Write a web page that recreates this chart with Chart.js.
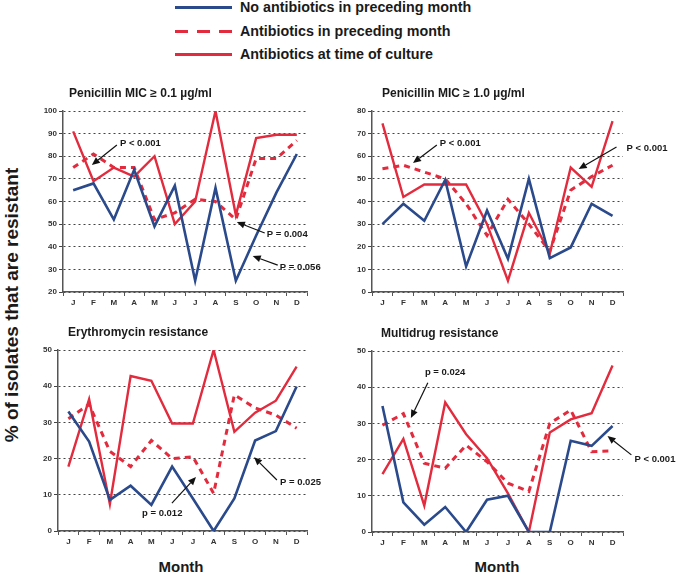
<!DOCTYPE html>
<html><head><meta charset="utf-8">
<script src="https://cdn.jsdelivr.net/npm/chart.js@4/dist/chart.umd.min.js"></script>
<style>
html,body{margin:0;padding:0;background:#fff;}
#wrap{position:relative;width:677px;height:576px;overflow:hidden;font-family:"Liberation Sans",Arial,sans-serif;}
canvas.pc{position:absolute;left:0;top:0;}
.lg{position:absolute;left:240px;font-weight:bold;font-size:14.3px;color:#1a1a1a;line-height:16px;white-space:nowrap;}
.ln{position:absolute;height:3px;}
.ytitle{position:absolute;left:12px;top:305px;transform:translate(-50%,-50%) rotate(-90deg);font-weight:bold;font-size:19px;color:#1a1a1a;white-space:nowrap;}
.month{position:absolute;top:558px;font-weight:bold;font-size:15px;color:#1a1a1a;transform:translateX(-50%);}
</style></head>
<body><div id="wrap">
<div class="ln" style="left:175px;top:6px;width:57px;background:#2a4a8c"></div>
<div class="lg" style="top:-1px">No antibiotics in preceding month</div>
<div class="ln" style="left:175px;top:30px;width:13px;background:#e32b3e"></div>
<div class="ln" style="left:197px;top:30px;width:13px;background:#e32b3e"></div>
<div class="ln" style="left:219px;top:30px;width:13px;background:#e32b3e"></div>
<div class="lg" style="top:23px">Antibiotics in preceding month</div>
<div class="ln" style="left:175px;top:53px;width:57px;background:#e32b3e"></div>
<div class="lg" style="top:46px">Antibiotics at time of culture</div>
<div class="ytitle">% of isolates that are resistant</div>
<div class="month" style="left:181px">Month</div>
<div class="month" style="left:497px">Month</div>
<canvas class="pc" id="c1" width="677" height="576"></canvas>
<canvas class="pc" id="c2" width="677" height="576"></canvas>
<canvas class="pc" id="c3" width="677" height="576"></canvas>
<canvas class="pc" id="c4" width="677" height="576"></canvas>
</div>
<script>
const months = ["J","F","M","A","M","J","J","A","S","O","N","D"];

// Panel 1: Penicillin MIC >= 0.1
const pen01_none = [65,68,52,74,49,67,25,66,25,45,64,81];
const pen01_prev = [75,81,75,75,52,55,61,60,52,79,79,87];
const pen01_now  = [91,69,75,71,80,50,60,100,54,88,89.5,89.5];
// Panel 2: Penicillin MIC >= 1.0
const pen10_none = [30,39,31.5,49.5,11.3,36,14.7,50,15,19.7,39,33.6];
const pen10_prev = [54.5,56,53,50,39,25,41,30,18,45,51,56];
const pen10_now  = [74.5,42,47.5,47.5,47.5,30,5,35,17,55,46.5,75.5];
// Panel 3: Erythromycin
const ery_none = [33,24.7,8.6,12.5,7.2,17.8,9,0,9,25,27.6,39.9];
const ery_prev = [31,35,22,17.8,25,20,20.5,10.4,37.6,34,32,28.4];
const ery_now  = [17.8,36.4,7.4,42.8,41.5,29.7,29.7,50,27.4,32.7,36,45.4];
// Panel 4: Multidrug
const mdr_none = [34.8,8.2,2,6.9,0,8.9,10,0,0,25.2,23.8,29.3];
const mdr_prev = [29.5,32.7,19,17.6,24,19.4,13.5,11.2,30,33.7,22.2,22.4];
const mdr_now  = [16,25.7,7.3,35.8,27,20.4,10.7,0,27.5,31.1,32.8,46];

const BLUE = "#2a4a8c", RED = "#e32b3e";
const FONT = '"Liberation Sans", Arial, sans-serif';

const panelPlugin = {
  id: 'panelDeco',
  afterDraw(chart) {
    const cfg = chart.options.plugins.panelDeco;
    if (!cfg) return;
    const ctx = chart.ctx, xs = chart.scales.x, ys = chart.scales.y;
    const px = i => xs.getPixelForValue(0) + i * (xs.getPixelForValue(1) - xs.getPixelForValue(0));
    const py = v => ys.getPixelForValue(v);
    ctx.save();
    ctx.fillStyle = '#1a1a1a';
    ctx.font = 'bold 12px ' + FONT;
    ctx.textBaseline = 'middle';
    ctx.textAlign = 'left';
    ctx.fillText(cfg.title, chart.chartArea.left + cfg.titleDx, chart.chartArea.top - 17);
    ctx.font = 'bold 9.5px ' + FONT;
    for (const n of cfg.notes) {
      ctx.fillStyle = '#1a1a1a';
      ctx.fillText(n.text, px(n.tx), py(n.ty));
      const x0 = px(n.a[0]), y0 = py(n.a[1]), x1 = px(n.a[2]), y1 = py(n.a[3]);
      const ang = Math.atan2(y1 - y0, x1 - x0);
      const hl = 8, hw = 3.5;
      const bx = x1 - hl * Math.cos(ang), by = y1 - hl * Math.sin(ang);
      ctx.strokeStyle = '#111';
      ctx.lineWidth = 1.2;
      ctx.beginPath(); ctx.moveTo(x0, y0); ctx.lineTo(bx, by); ctx.stroke();
      ctx.fillStyle = '#111';
      ctx.beginPath();
      ctx.moveTo(x1, y1);
      ctx.lineTo(bx + hw * Math.sin(ang), by - hw * Math.cos(ang));
      ctx.lineTo(bx - hw * Math.sin(ang), by + hw * Math.cos(ang));
      ctx.closePath(); ctx.fill();
    }
    ctx.restore();
  }
};

function makePanel(id, none, prev, now, ymin, ymax, pad, title, titleDx, notes) {
  new Chart(document.getElementById(id), {
    type: 'line',
    data: {
      labels: months,
      datasets: [
        {data: none, borderColor: BLUE, borderWidth: 2.6, pointRadius: 0, tension: 0},
        {data: now, borderColor: RED, borderWidth: 2.4, pointRadius: 0, tension: 0},
        {data: prev, borderColor: RED, borderWidth: 3, borderDash: [6,5], pointRadius: 0, tension: 0}
      ]
    },
    options: {
      responsive: false, animation: false, devicePixelRatio: 1,
      events: [],
      layout: {padding: pad},
      plugins: {legend: {display: false}, tooltip: {enabled: false}, title: {display: false},
        panelDeco: {title, titleDx, notes}},
      scales: {
        x: {
          offset: true,
          grid: {display: true, drawOnChartArea: false, drawTicks: true, tickLength: 4, color: '#555', offset: true},
          border: {color: '#555', width: 1.5},
          ticks: {font: {family: FONT, size: 8, weight: 'bold'}, color: '#333', padding: 2, maxRotation: 0, autoSkip: false},
          afterFit: s => { s.height = 20; }
        },
        y: {
          min: ymin, max: ymax,
          ticks: {stepSize: 10, font: {family: FONT, size: 8, weight: 'bold'}, color: '#333', padding: 2},
          grid: {color: '#444', lineWidth: 1, tickLength: 4},
          border: {color: '#555', width: 1.5, dash: [2,3]},
          afterFit: s => { s.width = 30; }
        }
      }
    },
    plugins: [panelPlugin]
  });
}

makePanel('c1', pen01_none, pen01_prev, pen01_now, 20, 100,
  {left: 33, top: 111, right: 370, bottom: 264}, 'Penicillin MIC \u2265 0.1 \u00b5g/ml', 6, [
  {text: 'P < 0.001', tx: 2.30, ty: 85.9, a: [2.15, 85.0, 0.92, 76.1]},
  {text: 'P = 0.004', tx: 9.52, ty: 45.6, a: [9.42, 46.1, 8.05, 50.9]},
  {text: 'P = 0.056', tx: 10.16, ty: 31.0, a: [10.06, 31.9, 8.83, 35.9]}
]);
makePanel('c2', pen10_none, pen10_prev, pen10_now, 0, 80,
  {left: 342, top: 111, right: 54, bottom: 264}, 'Penicillin MIC \u2265 1.0 \u00b5g/ml', 10, [
  {text: 'P < 0.001', tx: 2.74, ty: 65.9, a: [2.60, 65.0, 1.46, 57.0]},
  {text: 'P < 0.001', tx: 11.67, ty: 63.6, a: [11.19, 64.1, 9.38, 54.4]}
]);
makePanel('c3', ery_none, ery_prev, ery_now, 0, 50,
  {left: 28, top: 350, right: 370, bottom: 25}, 'Erythromycin resistance', 10, [
  {text: 'p = 0.012', tx: 3.55, ty: 5.0, a: [4.99, 7.7, 6.15, 14.9]},
  {text: 'P = 0.025', tx: 10.2, ty: 13.5, a: [10.05, 14.1, 8.95, 20.4]}
]);
makePanel('c4', mdr_none, mdr_prev, mdr_now, 0, 50,
  {left: 342, top: 351, right: 54, bottom: 24}, 'Multidrug resistance', 9, [
  {text: 'p = 0.024', tx: 2.03, ty: 44.2, a: [2.17, 41.2, 1.36, 31.5]},
  {text: 'P < 0.001', tx: 12.05, ty: 20.2, a: [11.9, 21.3, 10.76, 26.5]}
]);
</script>
</body></html>
